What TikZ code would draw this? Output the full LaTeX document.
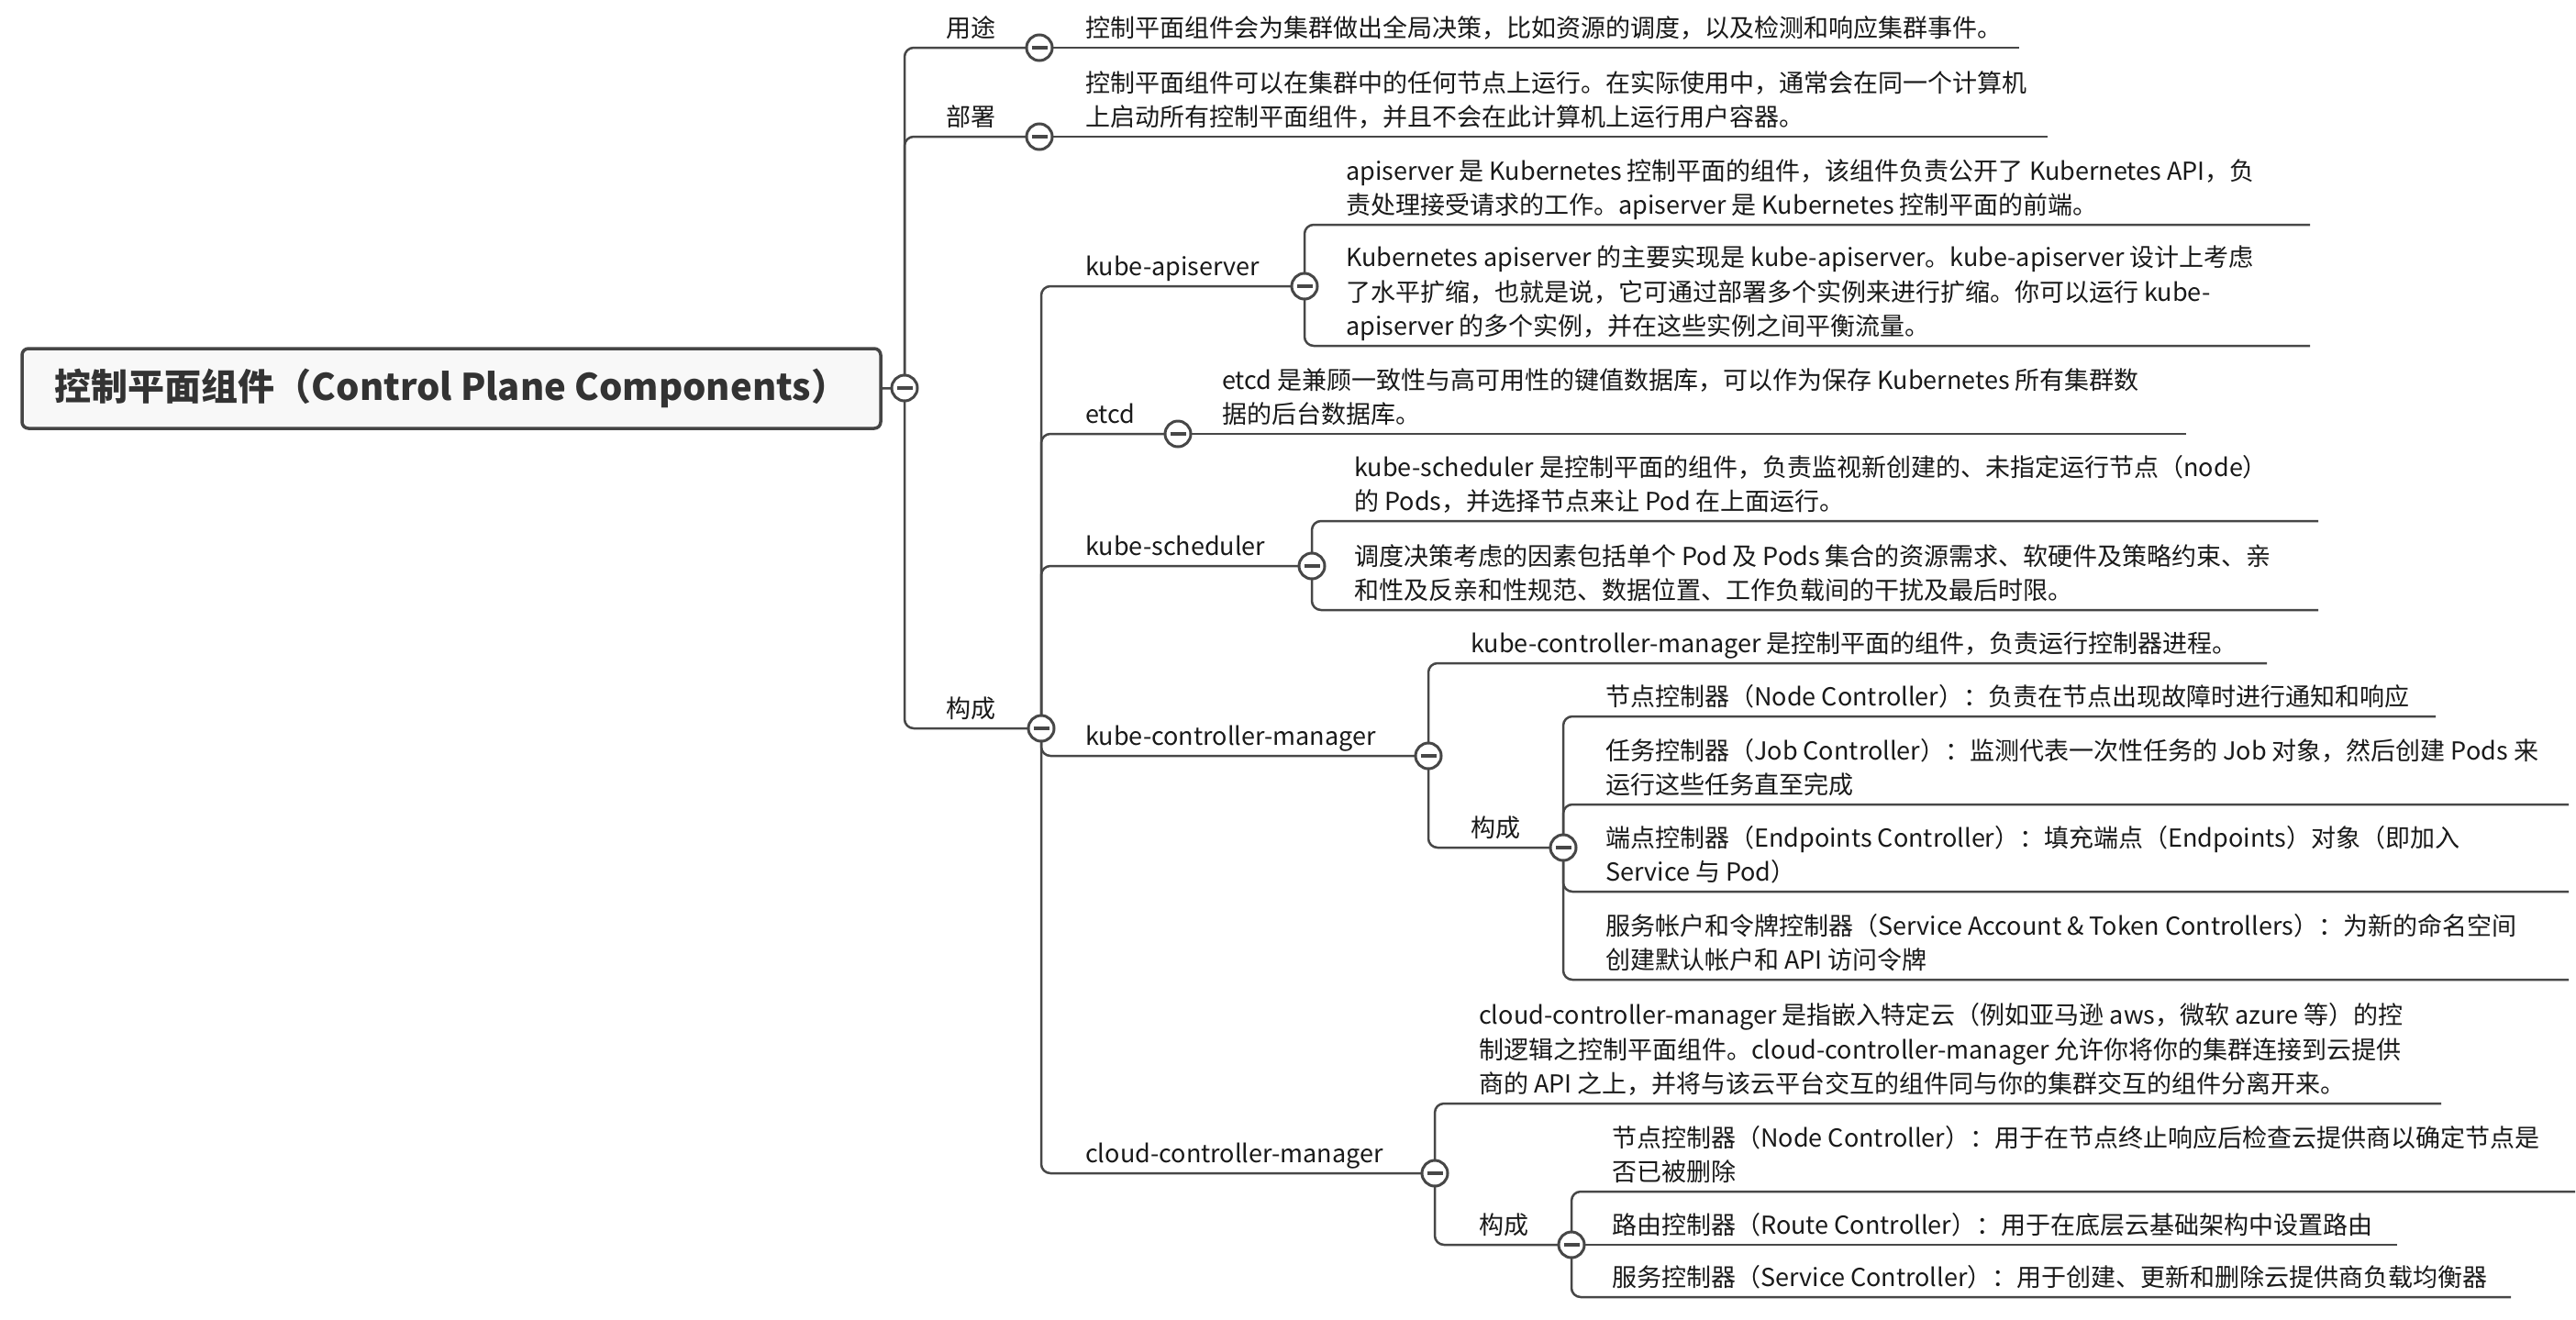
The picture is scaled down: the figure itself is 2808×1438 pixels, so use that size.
\documentclass[tikz,border=0pt]{standalone}
\usepackage{fontspec}
\setmainfont{Noto Sans CJK SC}
\usepackage{xcolor}
\usepackage{tikz}
\usetikzlibrary{backgrounds}
\definecolor{linegray}{HTML}{474747}
\definecolor{rootfill}{HTML}{F8F8F8}
\definecolor{rootline}{HTML}{454545}
\newcommand{\foldmark}{\rule{17pt}{4pt}}
\tikzstyle{central} = [rectangle, rounded corners=7pt, minimum width=936pt, minimum height=87pt, text centered, draw=rootline, line width=3.5pt, fill=rootfill, text=black!80, font=\fontsize{40}{48}\selectfont\bfseries]
\tikzstyle{topic} = [anchor=south west, inner sep=0pt, align=left, text=black!90, font=\fontsize{27}{37.5}\selectfont, execute at end node=\strut]
\tikzstyle{foldbtn} = [circle, minimum size=28pt, inner sep=0pt, draw=linegray, line width=3pt, fill=white, text=linegray]
\tikzstyle{branch} = [draw=linegray, line width=2.5pt, rounded corners=10pt]

\begin{document}
\begin{tikzpicture}[x=1pt, y=-1pt]
    \useasboundingbox (0,0) rectangle (2808,1438);
    % Root
    \node (root) [central] at (492,423.5) {控制平面组件（Control Plane Components）};
    \node (root-fold) [foldbtn] at (986,423) {\foldmark};

    % Level 1
    \node (use) [topic] at (1031,52) {用途};
    \node (use-fold) [foldbtn] at (1133,52) {\foldmark};
    \node (use-a) [topic] at (1183,52) {控制平面组件会为集群做出全局决策，比如资源的调度，以及检测和响应集群事件。};
    \coordinate (use-a-end) at (2201,52);

    \node (deploy) [topic] at (1031,149) {部署};
    \node (deploy-fold) [foldbtn] at (1133,149) {\foldmark};
    \node (deploy-a) [topic] at (1183,149) {控制平面组件可以在集群中的任何节点上运行。在实际使用中，通常会在同一个计算机\\上启动所有控制平面组件，并且不会在此计算机上运行用户容器。};
    \coordinate (deploy-a-end) at (2232,149);

    \node (comp) [topic] at (1031,794) {构成};
    \node (comp-fold) [foldbtn] at (1135,794) {\foldmark};

    % kube-apiserver
    \node (api) [topic] at (1183,312) {kube-apiserver};
    \node (api-fold) [foldbtn] at (1422,312) {\foldmark};
    \node (api-a) [topic] at (1467,245) {apiserver 是 Kubernetes 控制平面的组件，该组件负责公开了 Kubernetes API，负\\责处理接受请求的工作。apiserver 是 Kubernetes 控制平面的前端。};
    \coordinate (api-a-end) at (2518,245);
    \node (api-b) [topic] at (1467,377) {Kubernetes apiserver 的主要实现是 kube-apiserver。kube-apiserver 设计上考虑\\了水平扩缩，也就是说，它可通过部署多个实例来进行扩缩。你可以运行 kube-\\apiserver 的多个实例，并在这些实例之间平衡流量。};
    \coordinate (api-b-end) at (2518,377);

    % etcd
    \node (etcd) [topic] at (1183,473) {etcd};
    \node (etcd-fold) [foldbtn] at (1284,473) {\foldmark};
    \node (etcd-a) [topic] at (1332,473) {etcd 是兼顾一致性与高可用性的键值数据库，可以作为保存 Kubernetes 所有集群数\\据的后台数据库。};
    \coordinate (etcd-a-end) at (2383,473);

    % kube-scheduler
    \node (sched) [topic] at (1183,617) {kube-scheduler};
    \node (sched-fold) [foldbtn] at (1430,617) {\foldmark};
    \node (sched-a) [topic] at (1476,568) {kube-scheduler 是控制平面的组件，负责监视新创建的、未指定运行节点（node）\\的 Pods，并选择节点来让 Pod 在上面运行。};
    \coordinate (sched-a-end) at (2527,568);
    \node (sched-b) [topic] at (1476,665) {调度决策考虑的因素包括单个 Pod 及 Pods 集合的资源需求、软硬件及策略约束、亲\\和性及反亲和性规范、数据位置、工作负载间的干扰及最后时限。};
    \coordinate (sched-b-end) at (2527,665);

    % kube-controller-manager
    \node (kcm) [topic] at (1183,824) {kube-controller-manager};
    \node (kcm-fold) [foldbtn] at (1557,824) {\foldmark};
    \node (kcm-a) [topic] at (1603,723) {kube-controller-manager 是控制平面的组件，负责运行控制器进程。};
    \coordinate (kcm-a-end) at (2471,723);
    \node (kcm-sub) [topic] at (1603,924) {构成};
    \node (kcm-sub-fold) [foldbtn] at (1704,924) {\foldmark};
    \node (kcm-node) [topic] at (1750,781) {节点控制器（Node Controller）：负责在节点出现故障时进行通知和响应};
    \coordinate (kcm-node-end) at (2655,781);
    \node (kcm-job) [topic] at (1750,877) {任务控制器（Job Controller）：监测代表一次性任务的 Job 对象，然后创建 Pods 来\\运行这些任务直至完成};
    \coordinate (kcm-job-end) at (2800,877);
    \node (kcm-ep) [topic] at (1750,972) {端点控制器（Endpoints Controller）：填充端点（Endpoints）对象（即加入\\Service 与 Pod）};
    \coordinate (kcm-ep-end) at (2800,972);
    \node (kcm-sa) [topic] at (1750,1068) {服务帐户和令牌控制器（Service Account \& Token Controllers）：为新的命名空间\\创建默认帐户和 API 访问令牌};
    \coordinate (kcm-sa-end) at (2800,1068);

    % cloud-controller-manager
    \node (ccm) [topic] at (1183,1279) {cloud-controller-manager};
    \node (ccm-fold) [foldbtn] at (1564,1279) {\foldmark};
    \node (ccm-a) [topic] at (1612,1203) {cloud-controller-manager 是指嵌入特定云（例如亚马逊 aws，微软 azure 等）的控\\制逻辑之控制平面组件。cloud-controller-manager 允许你将你的集群连接到云提供\\商的 API 之上，并将与该云平台交互的组件同与你的集群交互的组件分离开来。};
    \coordinate (ccm-a-end) at (2661,1203);
    \node (ccm-sub) [topic] at (1612,1357) {构成};
    \node (ccm-sub-fold) [foldbtn] at (1713,1357) {\foldmark};
    \node (ccm-node) [topic] at (1757,1299) {节点控制器（Node Controller）：用于在节点终止响应后检查云提供商以确定节点是\\否已被删除};
    \coordinate (ccm-node-end) at (2807,1299);
    \node (ccm-route) [topic] at (1757,1357) {路由控制器（Route Controller）：用于在底层云基础架构中设置路由};
    \coordinate (ccm-route-end) at (2613,1357);
    \node (ccm-svc) [topic] at (1757,1414) {服务控制器（Service Controller）：用于创建、更新和删除云提供商负载均衡器};
    \coordinate (ccm-svc-end) at (2737,1414);

    % Branches
    \begin{pgfonlayer}{background}
        \draw [branch] (root.east) -- (root-fold.center);
        \draw [branch] (root-fold.center) |- (use-fold.center);
        \draw [branch] (root-fold.center) |- (deploy-fold.center);
        \draw [branch] (root-fold.center) |- (comp-fold.center);
        \draw [branch] (use-fold.center) -- (use-a-end);
        \draw [branch] (deploy-fold.center) -- (deploy-a-end);
        \draw [branch] (comp-fold.center) |- (api-fold.center);
        \draw [branch] (comp-fold.center) |- (etcd-fold.center);
        \draw [branch] (comp-fold.center) |- (sched-fold.center);
        \draw [branch] (comp-fold.center) |- (kcm-fold.center);
        \draw [branch] (comp-fold.center) |- (ccm-fold.center);
        \draw [branch] (api-fold.center) |- (api-a-end);
        \draw [branch] (api-fold.center) |- (api-b-end);
        \draw [branch] (etcd-fold.center) -- (etcd-a-end);
        \draw [branch] (sched-fold.center) |- (sched-a-end);
        \draw [branch] (sched-fold.center) |- (sched-b-end);
        \draw [branch] (kcm-fold.center) |- (kcm-a-end);
        \draw [branch] (kcm-fold.center) |- (kcm-sub-fold.center);
        \draw [branch] (kcm-sub-fold.center) |- (kcm-node-end);
        \draw [branch] (kcm-sub-fold.center) |- (kcm-job-end);
        \draw [branch] (kcm-sub-fold.center) |- (kcm-ep-end);
        \draw [branch] (kcm-sub-fold.center) |- (kcm-sa-end);
        \draw [branch] (ccm-fold.center) |- (ccm-a-end);
        \draw [branch] (ccm-fold.center) |- (ccm-sub-fold.center);
        \draw [branch] (ccm-sub-fold.center) |- (ccm-node-end);
        \draw [branch] (ccm-sub-fold.center) -- (ccm-route-end);
        \draw [branch] (ccm-sub-fold.center) |- (ccm-svc-end);
    \end{pgfonlayer}
\end{tikzpicture}
\end{document}
